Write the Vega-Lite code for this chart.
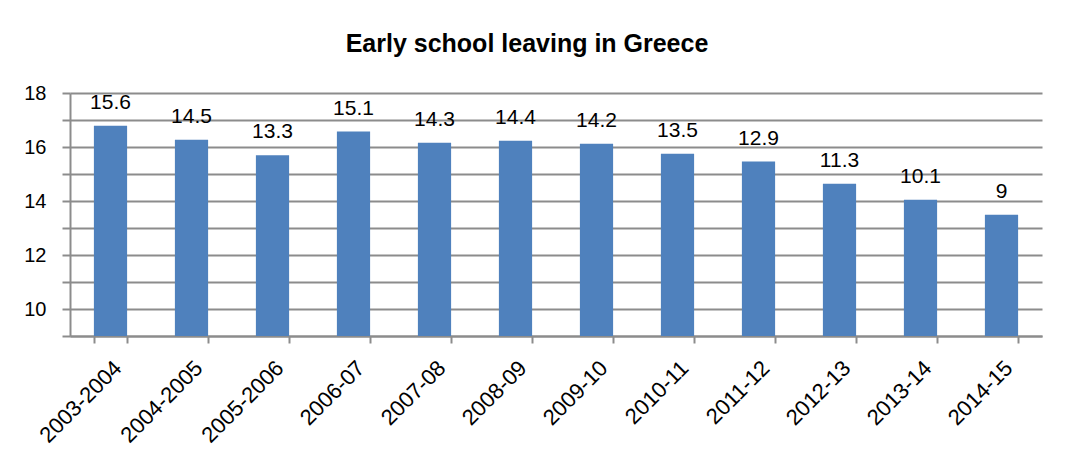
{
  "$schema": "https://vega.github.io/schema/vega-lite/v6.json",
  "autosize": "none",
  "width": 972,
  "height": 243,
  "padding": {"left": 70, "top": 93, "right": 31, "bottom": 114},
  "background": "white",
  "title": {
    "text": "Early school leaving in Greece",
    "font": "Liberation Sans, Arial",
    "fontSize": 25,
    "fontWeight": "bold",
    "color": "black",
    "anchor": "middle",
    "dx": -29,
    "offset": 26
  },
  "data": {
    "values": [
      {"period": "2003-2004", "value": 16.79, "label": "15.6"},
      {"period": "2004-2005", "value": 16.27, "label": "14.5"},
      {"period": "2005-2006", "value": 15.69, "label": "13.3"},
      {"period": "2006-07", "value": 16.57, "label": "15.1"},
      {"period": "2007-08", "value": 16.16, "label": "14.3"},
      {"period": "2008-09", "value": 16.23, "label": "14.4"},
      {"period": "2009-10", "value": 16.12, "label": "14.2"},
      {"period": "2010-11", "value": 15.75, "label": "13.5"},
      {"period": "2011-12", "value": 15.46, "label": "12.9"},
      {"period": "2012-13", "value": 14.64, "label": "11.3"},
      {"period": "2013-14", "value": 14.05, "label": "10.1"},
      {"period": "2014-15", "value": 13.49, "label": "9"}
    ]
  },
  "encoding": {
    "x": {
      "field": "period",
      "type": "nominal",
      "sort": null,
      "title": null,
      "scale": {"paddingInner": 0.59, "paddingOuter": 0.295},
      "axis": {
        "labelAngle": -45,
        "labelFont": "Liberation Sans, Arial",
        "labelFontSize": 22,
        "labelColor": "black",
        "labelPadding": 14,
        "tickBand": "extent",
        "tickSize": 7,
        "tickColor": "#8c8c8c",
        "tickWidth": 2,
        "domainColor": "#8c8c8c",
        "domainWidth": 2,
        "grid": false
      }
    },
    "y": {
      "field": "value",
      "type": "quantitative",
      "title": null,
      "scale": {"domain": [9, 18], "nice": false, "zero": false},
      "axis": {
        "values": [9, 10, 11, 12, 13, 14, 15, 16, 17, 18],
        "labelExpr": "datum.value % 2 == 0 ? datum.label : ''",
        "labelFont": "Liberation Sans, Arial",
        "labelFontSize": 20,
        "labelColor": "black",
        "labelPadding": 16,
        "tickSize": 8,
        "tickColor": "#8c8c8c",
        "tickWidth": 2,
        "domainColor": "#8c8c8c",
        "domainWidth": 2,
        "grid": true,
        "gridColor": "#8c8c8c",
        "gridWidth": 2
      }
    }
  },
  "layer": [
    {"mark": {"type": "bar", "color": "#4F81BD", "clip": true}},
    {
      "mark": {
        "type": "text",
        "font": "Liberation Sans, Arial",
        "fontSize": 21,
        "color": "black",
        "baseline": "alphabetic",
        "dy": -17
      },
      "encoding": {"text": {"field": "label"}}
    }
  ],
  "config": {"view": {"stroke": null}}
}
